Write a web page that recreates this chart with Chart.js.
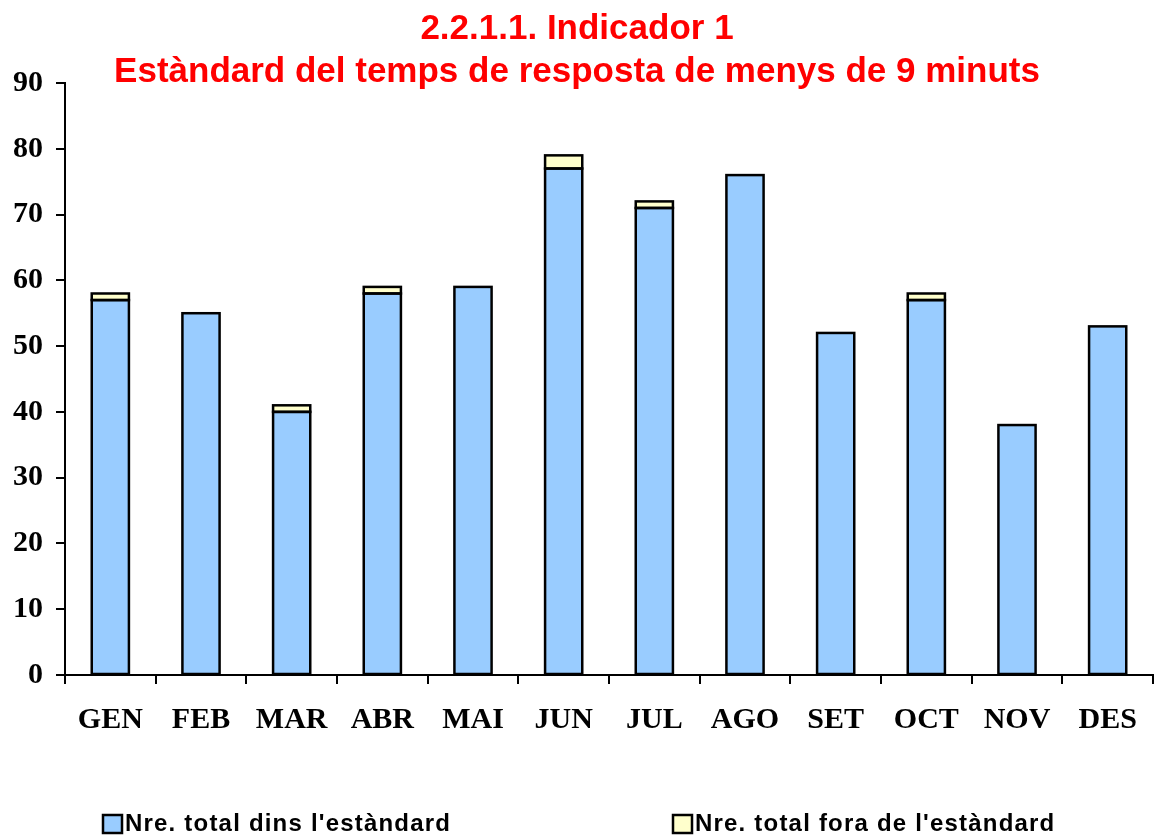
<!DOCTYPE html>
<html>
<head>
<meta charset="utf-8">
<script src="https://cdn.jsdelivr.net/npm/chart.js@4.4.1/dist/chart.umd.min.js"></script>
<style>
html,body{margin:0;padding:0;background:#fff;}
#wrap{position:relative;width:1156px;height:837px;}
</style>
</head>
<body>
<div id="wrap"><canvas id="c" width="1156" height="837"></canvas></div>
<script>
const titleLines = ["2.2.1.1. Indicador 1", "Estàndard del temps de resposta de menys de 9 minuts"];
const months = ["GEN","FEB","MAR","ABR","MAI","JUN","JUL","AGO","SET","OCT","NOV","DES"];
const dinsLabel = "Nre. total dins l'estàndard";
const foraLabel = "Nre. total fora de l'estàndard";
const dinsValues = [57, 55, 40, 58, 59, 77, 71, 76, 52, 57, 38, 53];
const foraValues = [1, null, 1, 1, null, 2, 1, null, null, 1, null, null];
const yTicks = [0,10,20,30,40,50,60,70,80,90];

const barOutline = {
  id: 'barOutline',
  afterDatasetsDraw(chart) {
    const ctx = chart.ctx;
    ctx.save();
    ctx.strokeStyle = '#000';
    ctx.lineWidth = 2.5;
    chart.data.datasets.forEach((ds, i) => {
      const meta = chart.getDatasetMeta(i);
      meta.data.forEach((el, j) => {
        const v = ds.data[j];
        if (v === null || v === undefined) return;
        const p = el.getProps(['x','y','base','width'], true);
        const left = p.x - p.width / 2;
        const top = Math.min(p.y, p.base);
        const h = Math.abs(p.base - p.y);
        ctx.strokeRect(left, top, p.width, h);
      });
    });
    ctx.restore();
  }
};

const overlay = {
  id: 'overlay',
  afterDraw(chart) {
    const ctx = chart.ctx;
    ctx.save();
    ctx.fillStyle = '#FF0000';
    ctx.font = 'bold 35px "Liberation Sans", Arial, sans-serif';
    ctx.textAlign = 'center';
    ctx.textBaseline = 'alphabetic';
    ctx.fillText(titleLines[0], 577, 39);
    ctx.fillText(titleLines[1], 577, 82);
    // legend
    const items = [{x:103, ds:0}, {x:673, ds:1}];
    ctx.font = 'bold 24px "Liberation Sans", Arial, sans-serif';
    ctx.textAlign = 'left';
    ctx.letterSpacing = '1.2px';
    items.forEach(it => {
      const ds = chart.data.datasets[it.ds];
      ctx.fillStyle = ds.backgroundColor;
      ctx.fillRect(it.x, 815, 19, 18);
      ctx.strokeStyle = '#000';
      ctx.lineWidth = 2.5;
      ctx.strokeRect(it.x, 815, 19, 18);
      ctx.fillStyle = '#000';
      ctx.fillText(ds.label, it.x + 22, 831);
    });
    ctx.restore();
  }
};

new Chart(document.getElementById('c'), {
  type: 'bar',
  data: {
    labels: months,
    datasets: [
      { label: dinsLabel, data: dinsValues, backgroundColor: '#99CCFF', borderWidth: 0, barPercentage: 0.41, categoryPercentage: 1 },
      { label: foraLabel, data: foraValues, backgroundColor: '#FFFFCC', borderWidth: 0, barPercentage: 0.41, categoryPercentage: 1 }
    ]
  },
  options: {
    responsive: false,
    animation: false,
    devicePixelRatio: 1,
    layout: { padding: { top: 83, right: 3, left: 0, bottom: 0 } },
    plugins: { legend: { display: false }, title: { display: false }, tooltip: { enabled: false } },
    scales: {
      x: {
        stacked: true,
        offset: true,
        grid: { display: true, offset: true, drawOnChartArea: false, drawTicks: true, tickLength: 9, color: '#000', lineWidth: 2 },
        border: { display: true, color: '#000', width: 2 },
        ticks: { color: '#000', font: { family: '"Liberation Serif", "Times New Roman", serif', weight: 'bold', size: 30 }, padding: 18, maxRotation: 0 },
        afterFit(scale) { scale.height = 162; }
      },
      y: {
        stacked: true,
        min: 0, max: 90,
        afterBuildTicks(scale) { scale.ticks = yTicks.map(v => ({ value: v })); },
        grid: { display: true, drawOnChartArea: false, drawTicks: true, tickLength: 9, color: '#000', lineWidth: 2 },
        border: { display: true, color: '#000', width: 2 },
        ticks: { color: '#000', font: { family: '"Liberation Serif", "Times New Roman", serif', weight: 'bold', size: 30 }, padding: 13 },
        afterFit(scale) { scale.width = 65; }
      }
    }
  },
  plugins: [barOutline, overlay]
});
</script>
</body>
</html>
